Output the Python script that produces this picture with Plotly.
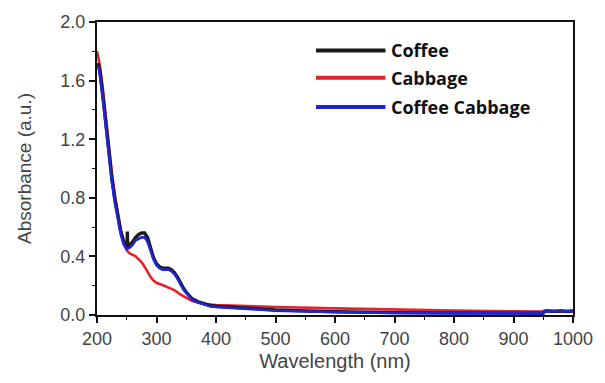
import plotly.graph_objects as go

# ---- data ----
wl_coffee = [202, 205, 210, 215, 220, 225, 230, 235, 240, 245, 249, 250.5, 251, 251.5, 253, 256, 260, 265, 270, 275, 280, 285,
             290, 295, 300, 305, 310, 315, 320, 325, 330, 335, 340, 345, 350, 355, 360, 370, 380, 390, 400,
             450, 500, 550, 600, 700, 800, 900, 950, 952, 955, 970, 980, 990, 1000]
abs_coffee = [1.72, 1.66, 1.49, 1.29, 1.09, 0.93, 0.79, 0.67, 0.57, 0.50, 0.47, 0.46, 0.57, 0.47, 0.47, 0.48, 0.50, 0.53, 0.55, 0.56, 0.56, 0.53,
              0.46, 0.39, 0.35, 0.33, 0.32, 0.32, 0.32, 0.31, 0.29, 0.26, 0.22, 0.185, 0.155, 0.13, 0.11, 0.09, 0.075, 0.065, 0.06,
              0.045, 0.035, 0.028, 0.022, 0.016, 0.013, 0.012, 0.012, 0.026, 0.028, 0.026, 0.028, 0.024, 0.028]

wl_cabbage = [200, 205, 210, 215, 220, 225, 230, 235, 240, 245, 250, 255, 260, 265, 270, 275, 280, 285,
              290, 295, 300, 310, 320, 330, 340, 350, 360, 370, 380, 400,
              450, 500, 600, 700, 800, 900, 1000]
abs_cabbage = [1.80, 1.70, 1.54, 1.35, 1.15, 0.97, 0.82, 0.69, 0.58, 0.49, 0.44, 0.42, 0.41, 0.40, 0.38, 0.36, 0.33, 0.29,
               0.26, 0.235, 0.22, 0.205, 0.19, 0.17, 0.14, 0.115, 0.095, 0.085, 0.075, 0.068,
               0.06, 0.055, 0.045, 0.035, 0.03, 0.025, 0.022]

wl_mix = [202, 205, 210, 215, 220, 225, 230, 235, 240, 245, 250, 255, 260, 265, 270, 275, 280, 285,
          290, 295, 300, 305, 310, 315, 320, 325, 330, 335, 340, 345, 350, 355, 360, 370, 380, 390, 400,
          450, 500, 550, 600, 700, 800, 900, 950, 952, 955, 970, 980, 990, 1000]
abs_mix = [1.70, 1.64, 1.47, 1.27, 1.07, 0.91, 0.77, 0.65, 0.55, 0.48, 0.45, 0.46, 0.48, 0.51, 0.52, 0.53, 0.53, 0.50,
           0.44, 0.38, 0.34, 0.32, 0.31, 0.31, 0.31, 0.30, 0.28, 0.25, 0.21, 0.175, 0.15, 0.125, 0.105, 0.085, 0.07, 0.06, 0.055,
           0.04, 0.03, 0.024, 0.019, 0.014, 0.011, 0.011, 0.011, 0.026, 0.028, 0.026, 0.03, 0.025, 0.03]

series_names = ["Coffee", "Cabbage", "Coffee Cabbage"]
series_colors = ["#1a1a1a", "#e3242b", "#1f24d6"]

x_ticks = [200, 300, 400, 500, 600, 700, 800, 900, 1000]
y_ticks = [0.0, 0.4, 0.8, 1.2, 1.6, 2.0]

fig = go.Figure()
fig.add_trace(go.Scatter(x=wl_cabbage, y=abs_cabbage, mode="lines", name=series_names[1],
                         line=dict(color=series_colors[1], width=2.6)))
fig.add_trace(go.Scatter(x=wl_coffee, y=abs_coffee, mode="lines", name=series_names[0],
                         line=dict(color=series_colors[0], width=3.4)))
fig.add_trace(go.Scatter(x=wl_mix, y=abs_mix, mode="lines", name=series_names[2],
                         line=dict(color=series_colors[2], width=2.6)))

# manual legend (long line samples, bold labels)
leg_y = [0.903, 0.81, 0.71]
for name, color, yy in zip(series_names, series_colors, leg_y):
    fig.add_shape(type="line", xref="paper", yref="paper", x0=0.46, x1=0.606, y0=yy, y1=yy,
                  line=dict(color=color, width=4))
    fig.add_annotation(xref="paper", yref="paper", x=0.614, y=yy, text=name, showarrow=False,
                       xanchor="left", yanchor="middle",
                       font=dict(family="Open Sans", size=18, color="#111111", weight="bold"))

tick_font = dict(family="Liberation Sans", size=18, color="#444444")
fig.update_layout(
    width=605, height=383,
    margin=dict(l=97, r=28, t=15, b=68),
    paper_bgcolor="white", plot_bgcolor="white",
    showlegend=False,
    xaxis=dict(range=[200, 1000], tickvals=x_ticks, ticks="outside", ticklen=6, tickwidth=1.5,
               tickcolor="#111", showline=True, linecolor="#111", linewidth=2, mirror=True,
               showgrid=False, zeroline=False, tickfont=tick_font,
               minor=dict(dtick=50, tick0=200, ticks="outside", ticklen=3, tickcolor="#111", tickwidth=1.2),
               title=dict(text="Wavelength (nm)", font=dict(family="Liberation Sans", size=20, color="#444444"),
                          standoff=6)),
    yaxis=dict(range=[0, 2.0], tickvals=y_ticks, ticktext=[f"{v:.1f}" for v in y_ticks],
               ticks="outside", ticklen=6, tickwidth=1.5,
               tickcolor="#111", showline=True, linecolor="#111", linewidth=2, mirror=True,
               showgrid=False, zeroline=False, tickfont=tick_font,
               minor=dict(dtick=0.2, tick0=0, ticks="outside", ticklen=3, tickcolor="#111", tickwidth=1.2),
               title=dict(text="Absorbance (a.u.)", font=dict(family="Liberation Sans", size=19, color="#444444"),
                          standoff=24)),
)

fig.write_html("out.html")
